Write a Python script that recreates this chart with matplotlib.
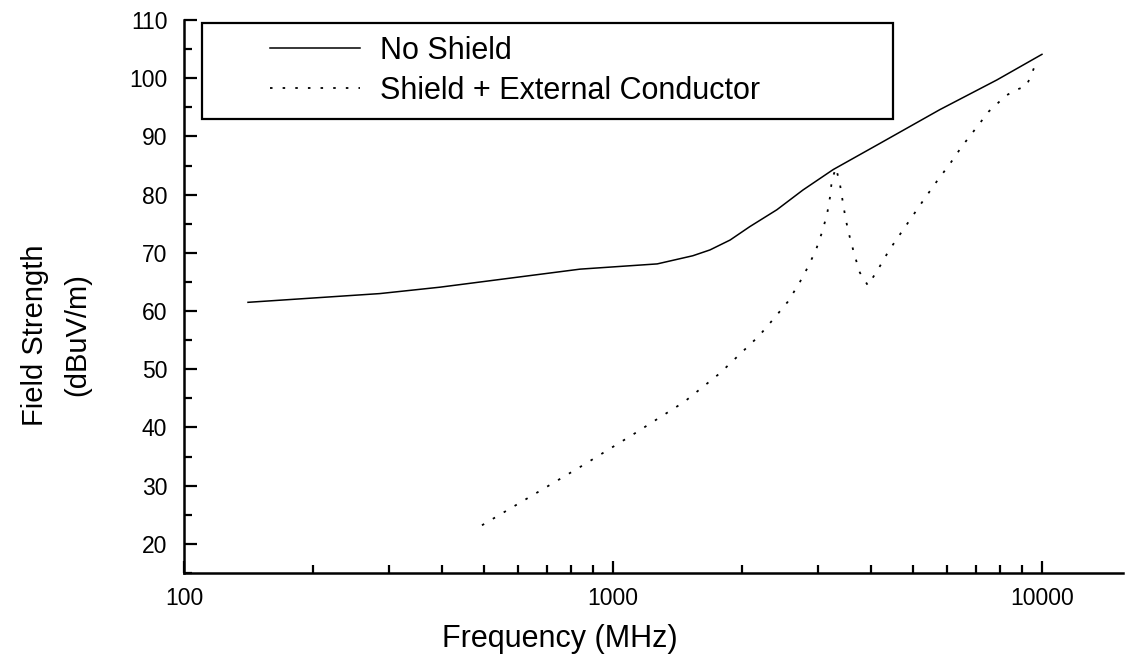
import matplotlib
matplotlib.use("Agg")
import matplotlib.pyplot as plt
from matplotlib.lines import Line2D
from matplotlib.legend_handler import HandlerLine2D
from matplotlib.ticker import FixedLocator, LogLocator, NullFormatter

plt.rcParams['font.family'] = ['Liberation Sans', 'DejaVu Sans']

# data
freq_noshield = [141, 286, 395, 838, 1268, 1535, 1683, 1875, 2084, 2410, 2773, 3260, 4190,
                 5780, 7850, 10000]
field_noshield = [61.5, 63.0, 64.1, 67.2, 68.1, 69.5, 70.5, 72.2, 74.5, 77.4, 80.8, 84.3, 88.8,
                  94.6, 99.7, 104.1]

freq_shield = [495, 651, 851, 1114, 1466, 1774, 2188, 2371, 2556, 2714, 2849, 2973, 3070,
               3155, 3206, 3239, 3311, 3383, 3436, 3491, 3567, 3661, 3763, 3929, 4167,
               4399, 4690, 5002, 5335, 5690, 6103, 6509, 6982, 7520, 8240, 8695, 9175,
               9376, 9680]
field_shield = [23.2, 28.4, 33.5, 38.8, 44.4, 49.3, 55.7, 58.7, 61.6, 64.7, 67.6, 70.5, 73.5,
                76.6, 79.6, 82.6, 84.6, 81.7, 78.6, 75.6, 72.6, 69.5, 66.6, 64.4, 67.4,
                70.4, 73.4, 76.4, 79.4, 82.3, 85.3, 88.3, 91.2, 94.3, 97.0, 98.0, 98.6,
                100.0, 102.6]

labels = ['No Shield', 'Shield + External Conductor']
xticks = [100, 1000, 10000]
yticks = [20, 30, 40, 50, 60, 70, 80, 90, 100, 110]

fig = plt.figure(figsize=(11.25, 6.58), dpi=100)
ax = fig.add_axes([184 / 1125, 1 - 573 / 658, 939 / 1125, 553 / 658])

ax.plot(freq_noshield, field_noshield, color='black', lw=1.1, label=labels[0])
ax.plot(freq_shield, field_shield, color='black', lw=1.3, linestyle=(0, (1.4, 5.6)),
        label=labels[1])

ax.set_xscale('log')
ax.set_xlim(100, 15450)
ax.set_ylim(15, 110)

ax.xaxis.set_major_locator(FixedLocator(xticks))
ax.set_xticklabels([str(t) for t in xticks])
ax.xaxis.set_minor_locator(LogLocator(base=10, subs=range(2, 10)))
ax.xaxis.set_minor_formatter(NullFormatter())
ax.yaxis.set_major_locator(FixedLocator(yticks))
ax.yaxis.set_minor_locator(FixedLocator([y + 5 for y in [10] + yticks[:-1]]))

for side in ['top', 'right']:
    ax.spines[side].set_visible(False)
for side in ['left', 'bottom']:
    ax.spines[side].set_linewidth(1.8)

ax.tick_params(which='major', direction='in', length=9, width=1.6, labelsize=16.5, pad=10)
ax.tick_params(which='minor', direction='in', length=5.5, width=1.6)
ax.tick_params(axis='y', which='major', pad=12)

fig.text(560 / 1125, 1 - 639 / 658, 'Frequency (MHz)', fontsize=22, ha='center', va='center')
fig.text(56 / 1125, 1 - 335 / 658, 'Field Strength\n(dBuV/m)', fontsize=21, rotation=90,
         ha='center', va='center', multialignment='center', linespacing=1.65)

handler = HandlerLine2D(marker_pad=0, xpad=1.8)
leg = ax.legend(loc='upper left', bbox_to_anchor=(18 / 939, 0, 691 / 939, 550 / 553),
                mode='expand', borderaxespad=0, fontsize=22, frameon=True, fancybox=False,
                borderpad=0.42, labelspacing=0.33, handlelength=4.74, handletextpad=0.65,
                handler_map={Line2D: handler})
leg.get_frame().set_edgecolor('black')
leg.get_frame().set_linewidth(1.6)
leg.get_frame().set_alpha(None)

fig.savefig('out.png', dpi=100)
